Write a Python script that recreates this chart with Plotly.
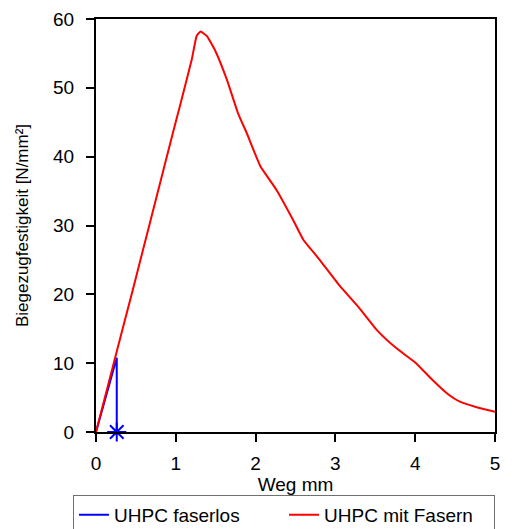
import plotly.graph_objects as go

# UHPC faserlos (without fibres)
weg_faserlos = [0.0, 0.26, 0.26]
kraft_faserlos = [0.0, 10.8, 0.0]

# UHPC mit Fasern (with fibres)
weg_fasern = [0.0, 0.26, 0.46, 0.94, 1.05, 1.20, 1.26, 1.31, 1.39, 1.49, 1.64, 1.78, 1.89,
              2.06, 2.26, 2.47, 2.60, 2.79, 3.05, 3.30, 3.52, 3.75, 4.00, 4.23, 4.40, 4.56,
              4.77, 5.0]
kraft_fasern = [0.0, 11.7, 20.6, 42.4, 47.3, 54.1, 57.5, 58.2, 57.5, 55.5, 51.2, 46.3, 43.4,
                38.6, 35.2, 30.8, 27.9, 25.2, 21.3, 18.0, 14.8, 12.3, 10.1, 7.4, 5.6, 4.4,
                3.6, 2.95]

x_ticks = [0, 1, 2, 3, 4, 5]
y_ticks = [0, 10, 20, 30, 40, 50, 60]

fig = go.Figure()
fig.add_trace(go.Scatter(
    x=weg_faserlos, y=kraft_faserlos, mode="lines", name="UHPC faserlos",
    line=dict(color="#0000ff", width=2),
))
fig.add_trace(go.Scatter(
    x=[weg_faserlos[-1]], y=[kraft_faserlos[-1]], mode="markers", showlegend=False,
    cliponaxis=False,
    marker=dict(symbol="asterisk-open", size=16, color="#0000ff",
                line=dict(color="#0000ff", width=2)),
))
fig.add_trace(go.Scatter(
    x=weg_fasern, y=kraft_fasern, mode="lines", name="UHPC mit Fasern",
    line=dict(color="#ff0000", width=2, shape="spline", smoothing=0.4),
))

font_family = "Liberation Sans, Arial, sans-serif"
fig.update_layout(
    width=519, height=529,
    margin=dict(l=96, r=24, t=19, b=97, autoexpand=False),
    paper_bgcolor="white", plot_bgcolor="white",
    font=dict(family=font_family, color="black"),
    showlegend=True,
    legend=dict(
        orientation="h", x=-0.0576, y=-0.152, xanchor="left", yanchor="top",
        bordercolor="#707070", borderwidth=1, font=dict(size=19),
        tracegroupgap=0, entrywidth=165, entrywidthmode="pixels",
    ),
    xaxis=dict(
        range=[0, 5], tickvals=x_ticks, ticks="outside", ticklen=8, tickwidth=1.5,
        tickcolor="black", showline=True, linecolor="black", linewidth=2, mirror=True,
        showgrid=False, zeroline=False, tickfont=dict(size=19), ticklabelstandoff=5,
        title=dict(text="Weg mm", font=dict(size=19), standoff=2),
    ),
    yaxis=dict(
        range=[0, 60], tickvals=y_ticks, ticks="outside", ticklen=8, tickwidth=1.5,
        tickcolor="black", showline=True, linecolor="black", linewidth=2, mirror=True,
        showgrid=False, zeroline=False, tickfont=dict(size=19), ticklabelstandoff=8,
        title=dict(text="Biegezugfestigkeit [N/mm²]", font=dict(size=17), standoff=20),
    ),
)

fig.write_html("out.html")
